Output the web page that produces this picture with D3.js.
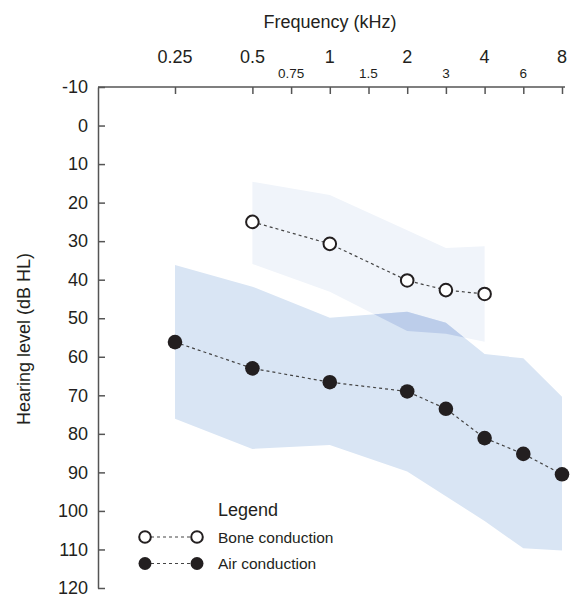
<!DOCTYPE html>
<html>
<head>
<meta charset="utf-8">
<script src="https://cdn.jsdelivr.net/npm/d3@7"></script>
<style>
  body { margin: 0; background: #fff; }
  text { font-family: "Liberation Sans", Arial, Helvetica, sans-serif; fill: #231f20; }
</style>
</head>
<body>
<div id="chart"></div>
<script>
// x slots of the audiogram (half-octave steps, the 0.375 slot has no tick)
var freqSlots = ["0.25", "0.375", "0.5", "0.75", "1", "1.5", "2", "3", "4", "6", "8"];
var majorTicks = ["0.25", "0.5", "1", "2", "4", "8"];
var minorTicks = ["0.75", "1.5", "3", "6"];
var yTicks = [-10, 0, 10, 20, 30, 40, 50, 60, 70, 80, 90, 100, 110, 120];

// bone conduction
var boneFreq = ["0.5", "1", "2", "3", "4"];
var boneValues = [25, 30.7, 40.2, 42.7, 43.7];
var boneUpper = [14.6, 18.0, 27.2, 31.8, 31.3];
var boneLower = [35.9, 43.1, 53.3, 54.0, 56.1];

// air conduction
var airFreq = ["0.25", "0.5", "1", "2", "3", "4", "6", "8"];
var airValues = [56.2, 63.0, 66.6, 69.0, 73.5, 81.1, 85.2, 90.5];
var airUpper = [36.2, 41.8, 49.9, 48.3, 51.2, 59.3, 60.4, 70.4];
var airLower = [76.1, 83.9, 82.9, 89.8, 96.2, 102.6, 109.7, 110.3];

var width = 584, height = 598;
var axisLeftX = 98;

var svg = d3.select("#chart").append("svg")
    .attr("width", width)
    .attr("height", height);

var x = d3.scalePoint().domain(freqSlots).range([175, 562]);
var y = d3.scaleLinear().domain([-10, 120]).range([87, 588]);

function rows(freqs, a, b) {
    return freqs.map(function (f, i) { return { f: f, a: a[i], b: b[i] }; });
}
var boneRows = rows(boneFreq, boneUpper, boneLower);
var airRows = rows(airFreq, airUpper, airLower);

var band = d3.area()
    .x(function (d) { return x(d.f); })
    .y0(function (d) { return y(d.a); })
    .y1(function (d) { return y(d.b); });

// clip for the overlap of both bands
svg.append("clipPath").attr("id", "boneClip")
    .append("path").attr("d", band(boneRows));

svg.append("path").attr("d", band(boneRows)).attr("fill", "#f0f4fa");
svg.append("path").attr("d", band(airRows)).attr("fill", "#d9e5f4");
svg.append("path").attr("d", band(airRows)).attr("fill", "#bccdea")
    .attr("clip-path", "url(#boneClip)");

// axes
var xAxis = d3.axisTop(x)
    .tickValues(majorTicks.concat(minorTicks))
    .tickSizeInner(-7).tickSizeOuter(0)
    .tickFormat("");
var gx = svg.append("g").attr("transform", "translate(0," + y(-10) + ")").call(xAxis);
gx.select(".domain").remove();
gx.append("line")
    .attr("x1", axisLeftX).attr("x2", x("8") + 3)
    .attr("y1", 0).attr("y2", 0);
gx.selectAll("line").attr("stroke", "#555").attr("stroke-width", 1.5);

svg.selectAll(".major")
    .data(majorTicks).enter().append("text")
    .attr("class", "major")
    .attr("x", function (d) { return x(d); })
    .attr("y", 63)
    .attr("text-anchor", "middle")
    .style("font-size", "18px")
    .text(function (d) { return d; });

svg.selectAll(".minor")
    .data(minorTicks).enter().append("text")
    .attr("class", "minor")
    .attr("x", function (d) { return x(d); })
    .attr("y", 78)
    .attr("text-anchor", "middle")
    .style("font-size", "13.5px")
    .text(function (d) { return d; });

svg.append("text")
    .attr("x", 330).attr("y", 28)
    .attr("text-anchor", "middle")
    .style("font-size", "18px")
    .text("Frequency (kHz)");

var yAxis = d3.axisLeft(y)
    .tickValues(yTicks)
    .tickSizeInner(-7).tickSizeOuter(0)
    .tickPadding(10)
    .tickFormat(function (d) { return String(d); });
var gy = svg.append("g").attr("transform", "translate(" + axisLeftX + ",0)").call(yAxis);
gy.selectAll("line, .domain").attr("stroke", "#555").attr("stroke-width", 1.5);
gy.selectAll("text")
    .style("font-size", "18px")
    .style("font-family", "'Liberation Sans', Arial, sans-serif")
    .attr("fill", "#231f20");

svg.append("text")
    .attr("transform", "translate(30,339) rotate(-90)")
    .attr("text-anchor", "middle")
    .style("font-size", "18px")
    .text("Hearing level (dB HL)");

// lines and points
var line = d3.line()
    .x(function (d) { return x(d.f); })
    .y(function (d) { return y(d.v); });

function series(freqs, vals) {
    return freqs.map(function (f, i) { return { f: f, v: vals[i] }; });
}
var bone = series(boneFreq, boneValues);
var air = series(airFreq, airValues);

[bone, air].forEach(function (s) {
    svg.append("path").attr("d", line(s))
        .attr("fill", "none")
        .attr("stroke", "#444")
        .attr("stroke-width", 1.2)
        .attr("stroke-dasharray", "3,3");
});

svg.selectAll(".bone").data(bone).enter().append("circle")
    .attr("class", "bone")
    .attr("cx", function (d) { return x(d.f); })
    .attr("cy", function (d) { return y(d.v); })
    .attr("r", 6.3)
    .attr("fill", "#fff")
    .attr("stroke", "#231f20")
    .attr("stroke-width", 2);

svg.selectAll(".air").data(air).enter().append("circle")
    .attr("class", "air")
    .attr("cx", function (d) { return x(d.f); })
    .attr("cy", function (d) { return y(d.v); })
    .attr("r", 7.3)
    .attr("fill", "#231f20");

// legend
var legend = svg.append("g");
legend.append("text").attr("x", 218).attr("y", 516)
    .style("font-size", "18px").text("Legend");

var legendItems = [
    { label: "Bone conduction", open: true },
    { label: "Air conduction", open: false }
];
legendItems.forEach(function (d, i) {
    var cy = 537 + i * 26.5;
    legend.append("line")
        .attr("x1", 145).attr("x2", 197)
        .attr("y1", cy).attr("y2", cy)
        .attr("stroke", "#444").attr("stroke-width", 1.2)
        .attr("stroke-dasharray", "3,3");
    [145, 197].forEach(function (cx) {
        legend.append("circle")
            .attr("cx", cx).attr("cy", cy)
            .attr("r", d.open ? 5.8 : 6.5)
            .attr("fill", d.open ? "#fff" : "#231f20")
            .attr("stroke", d.open ? "#231f20" : "none")
            .attr("stroke-width", 2);
    });
    legend.append("text")
        .attr("x", 218).attr("y", cy + 5.5)
        .style("font-size", "15.5px")
        .text(d.label);
});
</script>
</body>
</html>
